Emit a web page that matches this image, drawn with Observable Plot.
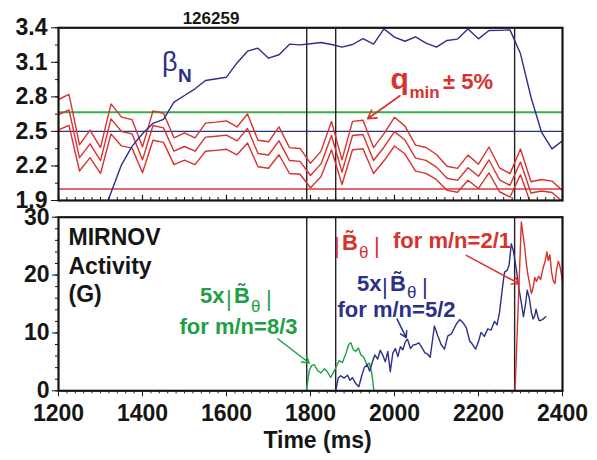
<!DOCTYPE html>
<html><head><meta charset="utf-8">
<script src="https://cdn.jsdelivr.net/npm/d3@7"></script>
<script src="https://cdn.jsdelivr.net/npm/@observablehq/plot@0.6"></script>
<style>
body{margin:0;background:#fff;}
#wrap{position:relative;width:597px;height:460px;overflow:hidden;font-family:"Liberation Sans",Arial,Helvetica,sans-serif;}
#wrap svg{position:absolute;left:0;}
</style></head><body><div id="wrap"></div>
<script>
// ---------- data ----------
const shot = "126259";
const qTime = [1200,1225,1250,1275,1300,1325,1350,1375,1400,1425,1450,1475,1500,1525,1550,1575,1600,1625,1650,1675,1700,1725,1750,1775,1800,1825,1850,1875,1900,1925,1950,1975,2000,2025,2050,2075,2100,2125,2150,2175,2200,2225,2250,2275,2300,2325,2350,2375,2400];
const qmin = [2.645,2.687,2.270,2.392,2.247,2.609,2.499,2.479,2.253,2.551,2.531,2.328,2.369,2.328,2.450,2.458,2.468,2.418,2.525,2.308,2.295,2.418,2.247,2.240,2.117,2.218,2.464,2.146,2.464,2.473,2.247,2.363,2.498,2.425,2.268,2.248,2.190,2.093,2.075,2.185,2.110,2.252,2.080,2.032,2.235,1.965,1.983,1.970,1.890];
const qBand = 0.05;
const betaTime = [1318,1350,1375,1400,1425,1450,1475,1500,1525,1550,1600,1625,1650,1675,1700,1725,1750,1775,1800,1825,1850,1875,1900,1925,1950,1975,2000,2025,2050,2075,2100,2125,2150,2175,2200,2225,2250,2275,2300,2325,2350,2375,2400];
const betaN = [1.90,2.21,2.37,2.48,2.57,2.605,2.754,2.812,2.870,2.942,2.971,3.095,3.197,3.223,3.136,3.166,3.258,3.252,3.261,3.272,3.255,3.232,3.255,3.306,3.258,3.390,3.319,3.283,3.321,3.267,3.232,3.290,3.302,3.390,3.304,3.377,3.378,3.382,3.174,2.797,2.493,2.348,2.420];
const qRational = [8/3, 5/2, 2];
const eventTimes = [1791, 1860, 2286];

const g83Time = [1790,1797,1803,1809,1817,1825,1833,1840,1848,1859,1868,1876,1884,1891,1896,1902,1908,1914,1920,1927,1934,1940,1946,1951];
const g83Val = [0,3.5,4.4,4.5,3.5,3.1,3.8,3.3,2.3,3.8,5.2,4.9,6.4,8.0,8.3,7.1,6.8,7.4,6.2,5.8,4.5,4.8,3.0,0];
const b52Time = [1860,1866,1872,1880,1888,1894,1900,1908,1915,1922,1928,1935,1941,1947,1953,1960,1966,1972,1978,1984,1990,1996,2002,2008,2014,2020,2026,2031,2038,2044,2050,2058,2065,2072,2078,2085,2095,2103,2111,2119,2127,2135,2147,2155,2163,2171,2179,2186,2193,2200,2206,2214,2222,2230,2238,2244,2250,2258,2262,2268,2273,2278,2283,2290,2296,2302,2307,2312,2316,2321,2326,2330,2334,2337,2342,2345,2352,2360];
const b52Val = [0,2.2,2.6,2.2,2.7,1.8,2.3,1.2,0.7,2.6,4.0,4.5,3.4,4.9,6.2,5.5,7.0,6.2,5.0,6.8,3.3,6.5,7.3,5.9,7.6,7.1,8.5,8.9,7.3,7.9,8.0,8.3,7.5,6.6,6.4,5.8,11.2,9.5,8.0,7.2,9.5,9.8,11.5,12.3,11.8,10.9,8.6,8.0,7.2,8.5,10.1,9.4,10.7,10.5,12.0,11.4,13.5,18.4,20.5,20.8,21.8,25.4,24.2,21.0,17.8,15.2,12.8,15.0,17.4,16.0,13.5,12.4,13.0,14.1,12.6,12.1,12.3,12.8];
const r21Time = [2287,2302,2306,2310,2314,2318,2322,2326,2330,2334,2338,2343,2348,2354,2358,2363,2366,2370,2374,2378,2382,2386,2390,2394,2397,2400];
const r21Val = [0,29.2,27.0,24.8,21.9,19.9,18.4,16.8,17.8,19.6,18.9,19.8,19.2,21.3,22.2,24.0,22.5,23.5,20.5,19.0,18.5,21.0,22.4,21.5,20.3,18.8];

// tick labels
const xTickLabels = [1200,1400,1600,1800,2000,2200,2400];
const yTickLabelsTop = [1.9,2.2,2.5,2.8,3.1,3.4];
const yTickLabelsBottom = [0,10,20,30];
const xLabel = "Time (ms)";

// annotation arrows
const arrowQ = [{x1: 2013, y1: 2.81, x2: 1936, y2: 2.61}];
const arrowG = [{x1: 1722, y1: 9.0, x2: 1797, y2: 4.8}];
const arrowB = [{x1: 2006, y1: 12.4, x2: 2028, y2: 9.2}];
const arrowR = [{x1: 2171, y1: 23.4, x2: 2297, y2: 18.5}];

// ---------- build ----------
const FONT = '"Liberation Sans", Arial, Helvetica, sans-serif';
const RED = "#d8322e", NAVY = "#2b3088", GREEN = "#1f9e46", INK = "#151515";
const xMinor = d3.range(1200, 2401, 20);
const yMinorTop = d3.range(1.9, 3.401, 0.15).map(v => +v.toFixed(2));
const yMinorBottom = d3.range(0, 30.1, 2);

const qRows = qTime.map((t, i) => ({t, q: qmin[i]}));
const betaRows = betaTime.map((t, i) => ({t, b: betaN[i]}));
const g83 = g83Time.map((t, i) => ({t, v: g83Val[i]}));
const b52 = b52Time.map((t, i) => ({t, v: b52Val[i]}));
const r21 = r21Time.map((t, i) => ({t, v: r21Val[i]}));

const style = {fontFamily: FONT, fontSize: "23px", fontWeight: "bold", color: INK, background: "transparent", overflow: "visible"};

const topPlot = Plot.plot({
  width: 597, height: 205,
  marginLeft: 58, marginRight: 35, marginTop: 27.3, marginBottom: 5,
  style,
  x: {domain: [1200, 2400], axis: null},
  y: {domain: [1.9, 3.4], axis: null},
  marks: [
    Plot.ruleY([qRational[0]], {stroke: "#35b04c", strokeWidth: 2}),
    Plot.ruleY([qRational[1]], {stroke: NAVY, strokeWidth: 1.3}),
    Plot.ruleY([qRational[2]], {stroke: "#e06c6c", strokeWidth: 2}),
    Plot.ruleX(eventTimes, {stroke: "#222", strokeWidth: 1.4}),
    Plot.line(qRows, {x: "t", y: d => d.q * (1 + qBand), stroke: RED, strokeWidth: 1.4, clip: true}),
    Plot.line(qRows, {x: "t", y: "q", stroke: RED, strokeWidth: 1.4, clip: true}),
    Plot.line(qRows, {x: "t", y: d => d.q * (1 - qBand), stroke: RED, strokeWidth: 1.4, clip: true}),
    Plot.line(betaRows, {x: "t", y: "b", stroke: NAVY, strokeWidth: 1.4, clip: true}),
    Plot.arrow(arrowQ, {x1: "x1", y1: "y1", x2: "x2", y2: "y2", stroke: RED, strokeWidth: 1.6, headLength: 9}),
    Plot.ruleX(xMinor, {y1: 1.9, y2: 1.9 + 0.026, stroke: INK, strokeWidth: 1}),
    Plot.ruleX(xTickLabels, {y1: 1.9, y2: 1.9 + 0.045, stroke: INK, strokeWidth: 1.2}),
    Plot.frame({stroke: INK, strokeWidth: 2.2}),
    Plot.axisY(yMinorTop, {tickSize: 3, tickFormat: () => "", label: null}),
    Plot.axisY(yTickLabelsTop, {tickSize: 7, tickPadding: 4, tickFormat: d3.format(".1f"), label: null})
  ]
});
topPlot.style.top = "0px";

const botPlot = Plot.plot({
  width: 597, height: 255,
  marginLeft: 58, marginRight: 35, marginTop: 11.7, marginBottom: 69.7,
  style,
  x: {domain: [1200, 2400]},
  y: {domain: [0, 30]},
  marks: [
    Plot.ruleX(eventTimes, {stroke: "#222", strokeWidth: 1.4}),
    Plot.line(g83, {x: "t", y: "v", stroke: GREEN, strokeWidth: 1.4, clip: true}),
    Plot.line(b52, {x: "t", y: "v", stroke: NAVY, strokeWidth: 1.4, clip: true}),
    Plot.line(r21, {x: "t", y: "v", stroke: RED, strokeWidth: 1.4, clip: true}),
    Plot.arrow(arrowG, {x1: "x1", y1: "y1", x2: "x2", y2: "y2", stroke: GREEN, strokeWidth: 1.5, headLength: 8}),
    Plot.arrow(arrowB, {x1: "x1", y1: "y1", x2: "x2", y2: "y2", stroke: NAVY, strokeWidth: 1.5, headLength: 8}),
    Plot.arrow(arrowR, {x1: "x1", y1: "y1", x2: "x2", y2: "y2", stroke: RED, strokeWidth: 1.5, headLength: 8}),
    Plot.frame({stroke: INK, strokeWidth: 2.2}),
    Plot.axisX(xMinor, {tickSize: 3, tickFormat: () => "", label: null}),
    Plot.axisX(xTickLabels, {tickSize: 6, tickPadding: 8, tickFormat: d => String(d), label: null}),
    Plot.axisY(yMinorBottom, {tickSize: 3, tickFormat: () => "", label: null}),
    Plot.axisY(yTickLabelsBottom, {tickSize: 6, tickPadding: 3, tickFormat: d => String(d), label: null}),
    Plot.text([xLabel], {frameAnchor: "bottom", dx: 7, dy: 57, fontSize: 23, fontWeight: "bold", fill: INK})
  ]
});
botPlot.style.top = "205px";

const wrap = document.getElementById("wrap");
wrap.appendChild(topPlot);
wrap.appendChild(botPlot);

// ---------- text annotations overlay (one <text> per label, tspans for sub/accents) ----------
function sp(x, y, s, size, opts = {}) {
  const w = opts.weight || "bold", a = opts.anchor || "start";
  return `<tspan x="${x}" y="${y}" font-size="${size}" font-weight="${w}" text-anchor="${a}">${s}</tspan>`;
}
function label(color, parts) {
  return `<text fill="${color}">${parts.join("")}</text>`;
}
function absB(x0, y, thetaDy) {
  // |B̃θ| ; x0 = left of first bar ; tilde is the combining mark U+0303
  return [
    sp(x0, y + 3, "|", 22, {weight: "normal"}),
    sp(x0 + 8, y, "B\u0303", 22),
    sp(x0 + 25, y + thetaDy, "θ", 17, {weight: "normal"}),
    sp(x0 + 40, y + 3, "|", 22, {weight: "normal"})
  ];
}
let ov = "";
ov += label(INK, [sp(211, 23.5, shot, 17, {anchor: "middle"})]);
ov += label(NAVY, [sp(162, 71, "β", 27, {weight: "normal"}), sp(178, 82, "N", 19)]);
ov += label(RED, [sp(390.5, 88.5, "q", 30), sp(409.5, 97.5, "min", 17), sp(443, 88.5, "± 5%", 22)]);
ov += label(INK, [sp(68.5, 245, "MIRNOV", 23), sp(68.5, 273.5, "Activity", 23), sp(68.5, 302, "(G)", 23)]);
ov += label(GREEN, [sp(200, 303, "5x", 22), ...absB(226, 303, 9), sp(238.5, 334, "for m/n=8/3", 22, {anchor: "middle"})]);
ov += label(NAVY, [sp(357, 291, "5x", 22), ...absB(382, 291, 7), sp(396.5, 316.5, "for m/n=5/2", 22, {anchor: "middle"})]);
ov += label(RED, [...absB(334, 250, 8), sp(393, 248, "for m/n=2/1", 22)]);
const svgOv = `<svg width="597" height="460" style="top:0;left:0;font-family:${FONT.replace(/"/g, "'")};pointer-events:none">${ov}</svg>`;
wrap.insertAdjacentHTML("beforeend", svgOv);
</script>
</body></html>
